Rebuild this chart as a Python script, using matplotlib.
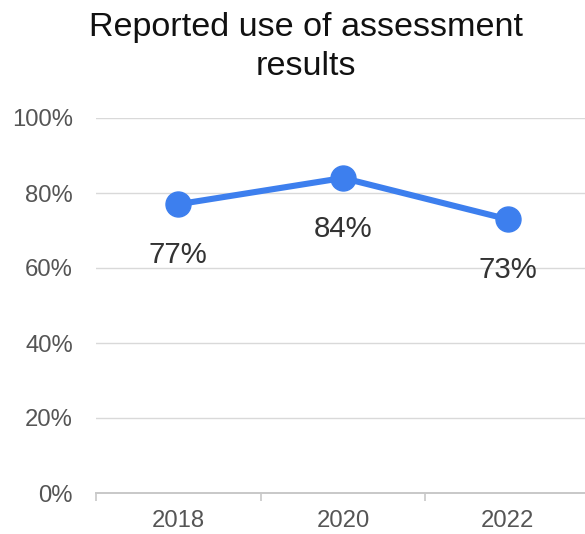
import matplotlib
matplotlib.use("Agg")
import matplotlib.pyplot as plt
from matplotlib.ticker import FixedLocator

years = ["2018", "2020", "2022"]
values = [77, 84, 73]
y_ticks = [0, 20, 40, 60, 80, 100]
y_tick_labels = ["0%", "20%", "40%", "60%", "80%", "100%"]
title_lines = ["Reported use of assessment", "results"]

plt.rcParams['font.family'] = ['Liberation Sans', 'DejaVu Sans']

W, H, DPI = 585, 534, 100
fig = plt.figure(figsize=(W / DPI, H / DPI), dpi=DPI)
fig.patch.set_facecolor('white')

left, right, bottom, top = 96, 590, 493, 118
ax = fig.add_axes([left / W, (H - bottom) / H, (right - left) / W, (bottom - top) / H])

x = list(range(len(years)))
blue = '#3d7fee'
ax.plot(x, values, color=blue, linewidth=4.4, marker='o', markersize=18,
        solid_capstyle='round', zorder=3, clip_on=False)

for xi, v in zip(x, values):
    ax.annotate(f"{v}%", xy=(xi, v), xytext=(0, -59 * 72 / DPI), textcoords='offset points',
                ha='center', va='baseline', fontsize=21.2, color='#333333', zorder=4)

ax.set_xlim(-0.5, len(years) - 0.5)
ax.set_ylim(0, 100)

ax.set_yticks(y_ticks)
ax.set_yticklabels(y_tick_labels)
ax.set_xticks(x)
ax.set_xticklabels(years)
ax.xaxis.set_minor_locator(FixedLocator([i - 0.5 for i in range(len(years) + 1)]))

ax.tick_params(axis='y', length=0, pad=16.5, labelsize=17.2, labelcolor='#555555')
ax.tick_params(axis='x', which='major', length=0, pad=12.5, labelsize=17.2, labelcolor='#555555')
ax.tick_params(axis='x', which='minor', length=6, width=1.2, color='#c8c8c8', direction='out')

ax.grid(axis='y', color='#d9d9d9', linewidth=1.0)
ax.set_axisbelow(True)
for s in ['top', 'right', 'left']:
    ax.spines[s].set_visible(False)
ax.spines['bottom'].set_color('#c8c8c8')
ax.spines['bottom'].set_linewidth(1.4)

cx = 306 / W
fig.text(cx, 1 - 36 / H, title_lines[0], ha='center', va='baseline', fontsize=24.6, color='#111111')
fig.text(cx, 1 - 75 / H, title_lines[1], ha='center', va='baseline', fontsize=24.6, color='#111111')

fig.savefig('out.png', dpi=DPI, facecolor='white')
